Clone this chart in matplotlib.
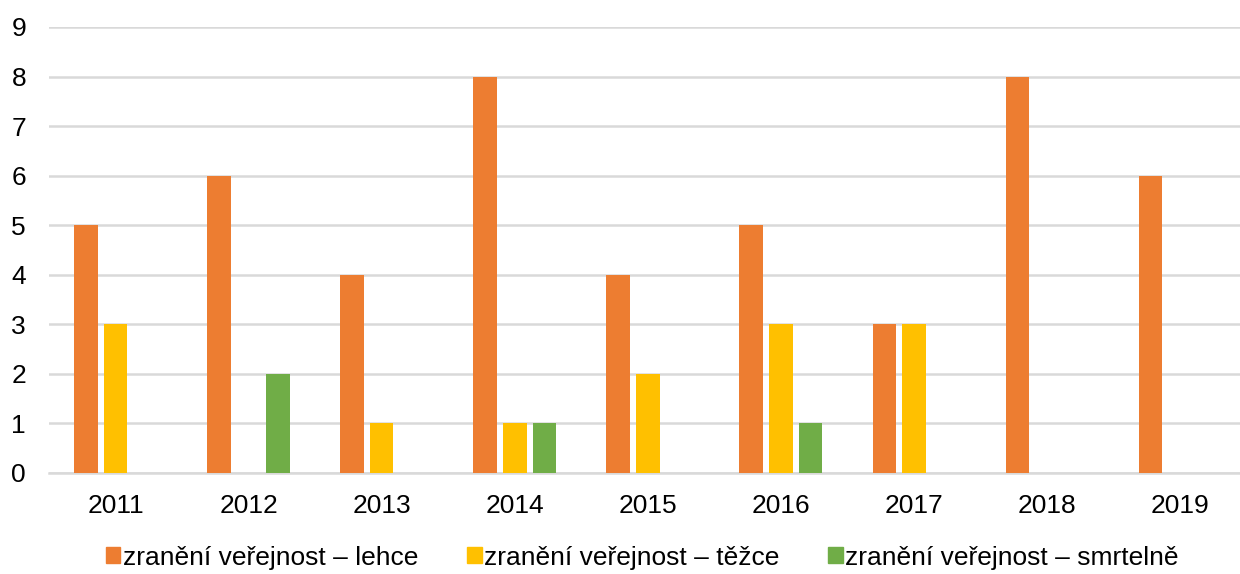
import numpy as np
import matplotlib.pyplot as plt
from matplotlib.patches import Patch

plt.rcParams['font.family'] = ['Liberation Sans', 'DejaVu Sans']

# data
years = ['2011', '2012', '2013', '2014', '2015', '2016', '2017', '2018', '2019']
lehce = [5, 6, 4, 8, 4, 5, 3, 8, 6]
tezce = [3, 0, 1, 1, 2, 3, 3, 0, 0]
smrtelne = [0, 2, 0, 1, 0, 1, 0, 0, 0]

labels = ['zranění veřejnost – lehce', 'zranění veřejnost – těžce', 'zranění veřejnost – smrtelně']
colors = ['#ED7D31', '#FFC000', '#70AD47']

fig = plt.figure(figsize=(12.4, 5.74), dpi=100)
ax = fig.add_axes([0.0395, 0.176, 0.9605, 0.777])

x = np.arange(len(years))
w = 0.177
step = 0.223
for i, (vals, c) in enumerate(zip([lehce, tezce, smrtelne], colors)):
    ax.bar(x + (i - 1) * step, vals, width=w, color=c, zorder=3)

ax.set_xlim(-0.5, 8.45)
ax.set_ylim(0, 9)
ax.set_yticks(range(10))
ax.set_xticks(x)
ax.set_xticklabels(years)
ax.tick_params(axis='both', length=0, labelsize=19, colors='black')
ax.tick_params(axis='y', pad=16.5)
ax.tick_params(axis='x', pad=15)
ax.grid(axis='y', color='#D9D9D9', linewidth=1.8, zorder=0)
for s in ['top', 'right', 'left']:
    ax.spines[s].set_visible(False)
ax.spines['bottom'].set_color('#D9D9D9')
ax.spines['bottom'].set_linewidth(1.8)

handles = [Patch(color=c) for c in colors]
fig.legend(handles, labels, loc='lower center', bbox_to_anchor=(0.518, -0.034), ncol=3,
           frameon=False, fontsize=19, handlelength=0.55, handleheight=0.55,
           handletextpad=0.1, columnspacing=1.85)

plt.savefig('out.png', dpi=100)
plt.close()
